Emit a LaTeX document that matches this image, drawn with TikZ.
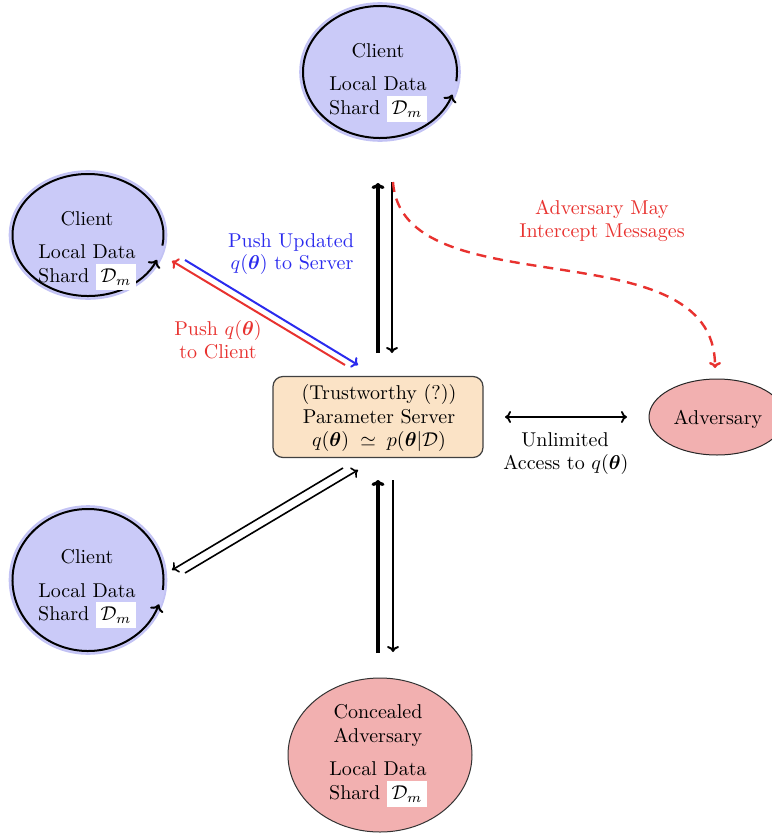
\documentclass[tikz,border=0pt]{standalone}
\usepackage{amsmath,bm}
\usetikzlibrary{shapes.geometric,arrows.meta,calc}
\definecolor{clientfill}{HTML}{CACAF8}
\definecolor{clientedge}{HTML}{C2C2F4}
\definecolor{advfill}{HTML}{F2B0B0}
\definecolor{serverfill}{HTML}{FBE3C6}
\definecolor{myred}{HTML}{E8322F}
\definecolor{myblue}{HTML}{2B2BEE}
\newcommand{\dmbox}{{\setlength{\fboxsep}{2.3pt}\colorbox{white}{$\mathcal{D}_m$}}}
\begin{document}
\begin{tikzpicture}[x=0.5pt,y=-0.5pt,
  lbl/.style={anchor=base,inner sep=0pt,font=\normalsize},
  clientshape/.style={ellipse,fill=clientfill,draw=clientedge,line width=0.8pt,inner sep=0pt},
  advshape/.style={ellipse,fill=advfill,draw=black!80,line width=0.5pt,inner sep=0pt},
  looparc/.style={draw=black,line width=1pt,-{To[length=3.5pt,width=7pt]}},
  thickup/.style={draw=black,line width=1.6pt,-{To[length=3pt,width=6.5pt]}},
  thindown/.style={draw=black,line width=1pt,-{To[length=3pt,width=6pt]}},
  thinarr/.style={draw=black,line width=0.8pt,-{To[length=3pt,width=6pt]}},
  redarr/.style={draw=myred,line width=1pt,-{To[length=3pt,width=6pt]}},
  bluearr/.style={draw=myblue,line width=1pt,-{To[length=3pt,width=6pt]}},
  dasharr/.style={draw=myred,line width=1.2pt,dash pattern=on 5pt off 3.5pt,-{To[length=3pt,width=6pt]}},
  bothends/.style={draw=black,line width=0.9pt,{To[length=3pt,width=6pt]}-{To[length=3pt,width=6pt]}}
]
\useasboundingbox (0,0) rectangle (771,835);

% ---------- shapes ----------
\node[clientshape,minimum width=80pt,minimum height=69pt] (ctop) at (380,72) {};
\node[clientshape,minimum width=78.5pt,minimum height=64pt] (cleft) at (88,235) {};
\node[clientshape,minimum width=78.5pt,minimum height=74pt] (cbot) at (88,580) {};
\node[advshape,minimum width=92pt,minimum height=77pt] (conc) at (380,755) {};
\node[advshape,draw=black!85,minimum width=68pt,minimum height=38pt] (adv) at (717,417) {};
\node[draw=black!75,line width=0.6pt,fill=serverfill,rounded corners=5pt,
      minimum width=105pt,minimum height=40.5pt] (server) at (378,417) {};

% ---------- loop arcs ----------
\draw[looparc] (ctop) ++(8:77 and 66) arc[start angle=8,end angle=-340,x radius=77,y radius=66];
\draw[looparc] (cleft) ++(10:75.5 and 61) arc[start angle=10,end angle=-336,x radius=75.5,y radius=61];
\draw[looparc] (cbot) ++(8:75.5 and 71) arc[start angle=8,end angle=-340,x radius=75.5,y radius=71];

% ---------- texts in shapes ----------
\node[lbl] (ct1) at (378,57) {Client};
\node[lbl] (ct2) at (378,90) {Local Data};
\node[lbl] (ct3) at (378,114) {Shard \dmbox};

\node[lbl] (cl1) at (87,225) {Client};
\node[lbl] (cl2) at (87,258) {Local Data};
\node[lbl] (cl3) at (87,282) {Shard \dmbox};

\node[lbl] (cb1) at (87,563) {Client};
\node[lbl] (cb2) at (87,597) {Local Data};
\node[lbl] (cb3) at (87,620) {Shard \dmbox};

\node[lbl] (cc1) at (378,718) {Concealed};
\node[lbl] (cc2) at (378,742) {Adversary};
\node[lbl] (cc3) at (378,775) {Local Data};
\node[lbl] (cc4) at (378,799) {Shard \dmbox};

\node[lbl] (advt) at (718,424) {Adversary};

\node[lbl] (st1) at (379,399) {(Trustworthy (?))};
\node[lbl] (st2) at (379,423) {Parameter Server};
\node[lbl] (st3) at (379,446) {$q(\bm{\theta})\;\simeq\;p(\bm{\theta}|\mathcal{D})$};

% ---------- connector end points ----------
\coordinate (v1a) at (378,353); \coordinate (v1b) at (378,183);
\coordinate (v2a) at (392,182); \coordinate (v2b) at (392,353);
\coordinate (v3a) at (378,653); \coordinate (v3b) at (378,480);
\coordinate (v4a) at (393,480); \coordinate (v4b) at (393,652);
\coordinate (ra) at (345,365); \coordinate (rb) at (172,261);
\coordinate (ba) at (185,260); \coordinate (bb) at (358,365);
\coordinate (ka) at (343,468); \coordinate (kb) at (172,570);
\coordinate (la) at (185,573); \coordinate (lb) at (358,470);
\coordinate (ha) at (505,417); \coordinate (hb) at (627,417);
\coordinate (da) at (393,182); \coordinate (db) at (715,368);

% ---------- connectors ----------
\draw[thickup] (v1a) -- (v1b);
\draw[thindown] (v2a) -- (v2b);
\draw[thickup] (v3a) -- (v3b);
\draw[thindown] (v4a) -- (v4b);
\draw[redarr] (ra) -- (rb);
\draw[bluearr] (ba) -- (bb);
\draw[thinarr] (ka) -- (kb);
\draw[thinarr] (la) -- (lb);
\draw[bothends] (ha) -- (hb);
\draw[dasharr] (da) .. controls (402,310) and (715,225) .. (db);

% ---------- connector labels ----------
\node[lbl,text=myblue] (bl1) at (291,247) {Push Updated};
\node[lbl,text=myblue] (bl2) at (292,269) {$q(\bm{\theta})$ to Server};
\node[lbl,text=myred] (rl1) at (218,335) {Push $q(\bm{\theta})$};
\node[lbl,text=myred] (rl2) at (218,358) {to Client};
\node[lbl,text=myred] (al1) at (602,214) {Adversary May};
\node[lbl,text=myred] (al2) at (602,237) {Intercept Messages};
\node[lbl] (ul1) at (565,446) {Unlimited};
\node[lbl] (ul2) at (566,469) {Access to $q(\bm{\theta})$};
\end{tikzpicture}
\end{document}
